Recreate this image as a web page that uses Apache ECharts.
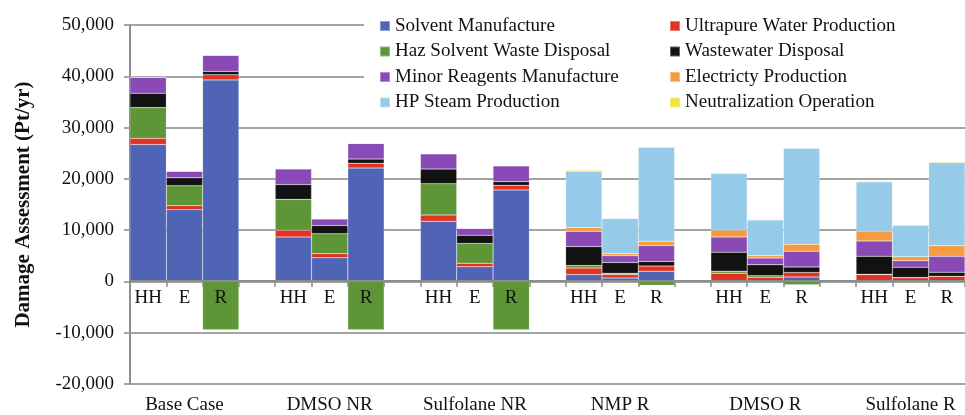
<!DOCTYPE html>
<html>
<head>
<meta charset="utf-8">
<script src="https://cdn.jsdelivr.net/npm/echarts@6/dist/echarts.min.js"></script>
<style>
  html, body { margin: 0; padding: 0; background: #fff; }
  #chart { width: 965px; height: 415px; }
</style>
</head>
<body>
<div id="chart"></div>
<script>
// groups and the three damage categories inside each group
const groups = ['Base Case', 'DMSO NR', 'Sulfolane NR', 'NMP R', 'DMSO R', 'Sulfolane R'];
const subLabels = ['HH', 'E', 'R'];

// values per bar, order: HH, E, R for each group
const solvent = [26700, 14000, 39300, 8650, 4600, 22100, 11750, 2850, 17850, 1350, 650, 2000, 150, 100, 850, 100, 50, 50];
const ultrapure = [1200, 750, 1000, 1350, 800, 950, 1200, 700, 900, 1250, 700, 1000, 1450, 700, 900, 1250, 650, 950];
const hazWaste = [6000, 3900, -9400, 6000, 3900, -9400, 6100, 3850, -9400, 500, 250, -750, 400, 300, -650, 50, 50, 0];
const wastewater = [2800, 1550, 650, 2900, 1600, 800, 2850, 1600, 700, 3700, 2100, 900, 3700, 2150, 1050, 3500, 2000, 800];
const minorReagents = [3100, 1300, 3150, 3050, 1300, 3050, 3000, 1350, 3100, 3000, 1300, 3100, 2950, 1300, 3100, 3000, 1300, 3100];
const electricity = [0, 0, 0, 0, 0, 0, 0, 0, 0, 700, 450, 850, 1350, 500, 1350, 1950, 780, 2050];
const hpSteam = [0, 0, 0, 0, 0, 0, 0, 0, 0, 11000, 6800, 18300, 11000, 6950, 18700, 9550, 6100, 16250];
const neutralization = [0, 0, 0, 0, 0, 0, 0, 0, 0, 200, 130, 130, 200, 100, 130, 200, 130, 130];

const yTicks = { min: -20000, max: 50000, interval: 10000 };

const seriesDefs = [
  ['Solvent Manufacture', solvent, '#4f64b4'],
  ['Ultrapure Water Production', ultrapure, '#e03322'],
  ['Haz Solvent Waste Disposal', hazWaste, '#5e9637'],
  ['Wastewater Disposal', wastewater, '#121212'],
  ['Minor Reagents Manufacture', minorReagents, '#8a4ab6'],
  ['Electricty Production', electricity, '#f59c40'],
  ['HP Steam Production', hpSteam, '#95cbe8'],
  ['Neutralization Operation', neutralization, '#f2e43c']
];

// 23 slots: 3 bars per group with an empty slot between groups
const cats = [], groupCats = [];
groups.forEach((g, gi) => {
  subLabels.forEach((s, si) => {
    cats.push(s);
    groupCats.push(si === 1 ? g : '');
  });
  if (gi < groups.length - 1) { cats.push(''); groupCats.push(''); }
});
function spread(vals) {
  const out = [];
  groups.forEach((g, gi) => {
    for (let k = 0; k < 3; k++) out.push(vals[gi * 3 + k]);
    if (gi < groups.length - 1) out.push(null);
  });
  return out;
}

const font = 'Liberation Serif, Times New Roman, serif';
const gridGrey = '#a3a3a3';

const chart = echarts.init(document.getElementById('chart'));
chart.setOption({
  animation: false,
  backgroundColor: '#fff',
  grid: { left: 130, right: 0, top: 25, bottom: 31 },
  graphic: [{
    type: 'rect', z: 3, silent: true,
    shape: { x: 364, y: 0, width: 601, height: 116 },
    style: { fill: '#fff' }
  }],
  legend: [
    {
      data: seriesDefs.filter((d, i) => i % 2 === 0).map(d => d[0]),
      orient: 'vertical', left: 374, top: 11, itemGap: 5.5,
      itemWidth: 10, itemHeight: 10, icon: 'rect',
      textStyle: { fontFamily: font, fontSize: 19, color: '#111', lineHeight: 20 }
    },
    {
      data: seriesDefs.filter((d, i) => i % 2 === 1).map(d => d[0]),
      orient: 'vertical', left: 664, top: 11, itemGap: 5.5,
      itemWidth: 10, itemHeight: 10, icon: 'rect',
      textStyle: { fontFamily: font, fontSize: 19, color: '#111', lineHeight: 20 }
    }
  ],
  xAxis: [
    {
      // sits on the zero line (grid bottom is -20,000, 103px below)
      type: 'category', data: cats, position: 'bottom', offset: -103,
      axisLine: { onZero: false, lineStyle: { color: '#8c8c8c', width: 2 } },
      axisTick: { show: true, length: 6, lineStyle: { color: '#8c8c8c', width: 1.5 } },
      axisLabel: { interval: 0, margin: 8, fontFamily: font, fontSize: 19, color: '#111' },
      z: 5
    },
    {
      type: 'category', data: groupCats, position: 'bottom',
      axisLine: { show: false, onZero: false },
      axisTick: { show: false },
      axisLabel: { interval: 0, margin: 12, fontFamily: font, fontSize: 19, color: '#111' }
    }
  ],
  yAxis: {
    type: 'value', min: yTicks.min, max: yTicks.max, interval: yTicks.interval,
    name: 'Damage Assessment (Pt/yr)', nameLocation: 'middle', nameGap: 96,
    nameTextStyle: { fontFamily: font, fontSize: 21, fontWeight: 'bold', color: '#111' },
    axisLine: { show: true, lineStyle: { color: '#8c8c8c', width: 2 } },
    axisTick: { show: true, length: 6, lineStyle: { color: gridGrey, width: 2 } },
    splitLine: { lineStyle: { color: gridGrey, width: 2 } },
    axisLabel: {
      margin: 16, fontFamily: font, fontSize: 19, color: '#111',
      formatter: v => v.toLocaleString('en-US')
    }
  },
  series: seriesDefs.map(([name, vals, color]) => ({
    name, type: 'bar', stack: 'total', xAxisIndex: 0,
    barWidth: '100%', barCategoryGap: '0%',
    itemStyle: { color, borderColor: 'rgba(255,255,255,0.35)', borderWidth: 0.5 },
    data: spread(vals)
  }))
});
</script>
</body>
</html>
